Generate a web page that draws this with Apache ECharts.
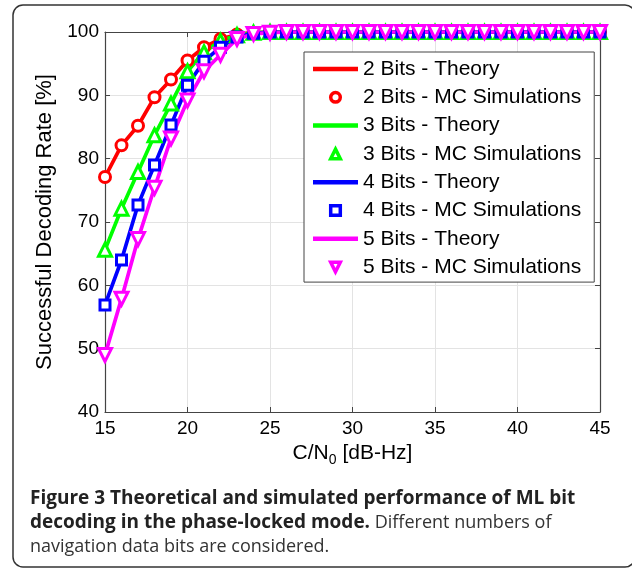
<!DOCTYPE html>
<html><head><meta charset="utf-8">
<script src="https://cdn.jsdelivr.net/npm/echarts@6/dist/echarts.min.js"></script>
<style>html,body{margin:0;padding:0;background:#fff}#c{width:632px;height:570px}</style>
</head><body><div id="c"></div>
<script>
const snr = [15,16,17,18,19,20,21,22,23,24,25,26,27,28,29,30,31,32,33,34,35,36,37,38,39,40,41,42,43,44,45];
const bits2 = [77.1,82.1,85.2,89.7,92.5,95.5,97.6,98.9,99.6,99.9,100,100,100,100,100,100,100,100,100,100,100,100,100,100,100,100,100,100,100,100,100];
const bits3 = [65.6,72.1,77.9,83.7,88.7,93.8,96.8,98.6,99.5,99.9,100,100,100,100,100,100,100,100,100,100,100,100,100,100,100,100,100,100,100,100,100];
const bits4 = [56.9,64.0,72.7,79.0,85.3,91.6,95.4,97.6,99.2,99.8,100,100,100,100,100,100,100,100,100,100,100,100,100,100,100,100,100,100,100,100,100];
const bits5 = [49.0,57.9,67.3,75.4,83.2,89.2,93.8,96.4,98.9,99.7,99.9,100,100,100,100,100,100,100,100,100,100,100,100,100,100,100,100,100,100,100,100];
const seriesNames = ['2 Bits','3 Bits','4 Bits','5 Bits'];
const colors = ['#ff0000','#00ff00','#0000ff','#ff00ff'];
const symbols = ['circle','triangle','rect','triangle'];
const symRot = [0,0,0,180];
const symSize = [11,13,10,13];

const allData = [bits2,bits3,bits4,bits5];
const series = [];
const legendData = [];
allData.forEach((vals,i)=>{
  const pts = snr.map((x,j)=>[x,vals[j]]);
  series.push({name: seriesNames[i]+' - Theory', type:'line', data:pts, symbol:'none',
    lineStyle:{color:colors[i], width:3.7}, itemStyle:{color:colors[i]}, z:2+i});
  series.push({name: seriesNames[i]+' - MC Simulations', type:'line', data:pts, symbol:symbols[i],
    symbolSize:symSize[i], symbolRotate:symRot[i], showAllSymbol:true,
    lineStyle:{width:0, opacity:0},
    itemStyle:{color:'#fff', borderColor:colors[i], borderWidth:3}, z:3+i});
  legendData.push({name: seriesNames[i]+' - Theory', icon:'path://M0,0H10V1H0Z', itemStyle:{color:colors[i], borderWidth:0}});
  legendData.push({name: seriesNames[i]+' - MC Simulations', itemStyle:{borderWidth:3.5}});
});

const chart = echarts.init(document.getElementById('c'), null, {renderer:'canvas'});
const axisCommon = {
  axisLine:{show:true, lineStyle:{color:'#444', width:1.2}},
  axisTick:{show:true, inside:true, length:5, lineStyle:{color:'#444'}},
};
chart.setOption({
  animation:false,
  backgroundColor:'#fff',
  grid:{left:105, top:32, width:495, height:380, show:false},
  legend:{
    orient:'vertical', left:304, top:52, itemWidth:45, itemHeight:12, itemGap:7.3,
    backgroundColor:'#fff', borderColor:'#444', borderWidth:1,
    padding:[6.5,13,4.5,9],
    textStyle:{fontFamily:'Liberation Sans', fontSize:21, color:'#000'},
    data: legendData
  },
  xAxis:[{
    type:'value', min:15, max:45, interval:5,
    ...axisCommon,
    splitLine:{show:true, lineStyle:{color:'#e3e3e3', width:1}},
    axisLabel:{fontFamily:'Liberation Sans', fontSize:19, color:'#000', margin:7},
    name:'{a|C/N}{s|0}{a| [dB-Hz]}', nameLocation:'middle', nameGap:27,
    nameTextStyle:{rich:{a:{fontFamily:'Liberation Sans', fontSize:21, color:'#000'},
                          s:{fontFamily:'Liberation Sans', fontSize:14, color:'#000', padding:[14,0,0,0]}}}
  },{
    type:'value', min:15, max:45, interval:5, position:'top',
    ...axisCommon, axisLabel:{show:false}, splitLine:{show:false}
  }],
  yAxis:[{
    type:'value', min:40, max:100, interval:10,
    ...axisCommon,
    splitLine:{show:true, lineStyle:{color:'#e3e3e3', width:1}},
    axisLabel:{fontFamily:'Liberation Sans', fontSize:19, color:'#000', margin:6},
    name:'Successful Decoding Rate [%]', nameLocation:'middle', nameGap:42,
    nameTextStyle:{fontFamily:'Liberation Sans', fontSize:22, color:'#000'}
  },{
    type:'value', min:40, max:100, interval:10, position:'right',
    ...axisCommon, axisLabel:{show:false}, splitLine:{show:false}
  }],
  series: series,
  graphic:[
    {type:'rect', shape:{x:13, y:5, width:622, height:562, r:10}, style:{fill:'none', stroke:'#333', lineWidth:1.5}, z:-1},
    {type:'text', left:30, top:489, style:{
      text:'{b|Figure 3 Theoretical and simulated performance of ML bit}\n{b|decoding in the phase-locked mode.}{r| Different numbers of}\n{r|navigation data bits are considered.}',
      rich:{
        b:{fontFamily:'Open Sans', fontWeight:'bold', fontSize:19, lineHeight:24, fill:'#222'},
        r:{fontFamily:'Open Sans', fontSize:18, lineHeight:24, fill:'#333'}
      }
    }}
  ]
});
</script></body></html>
